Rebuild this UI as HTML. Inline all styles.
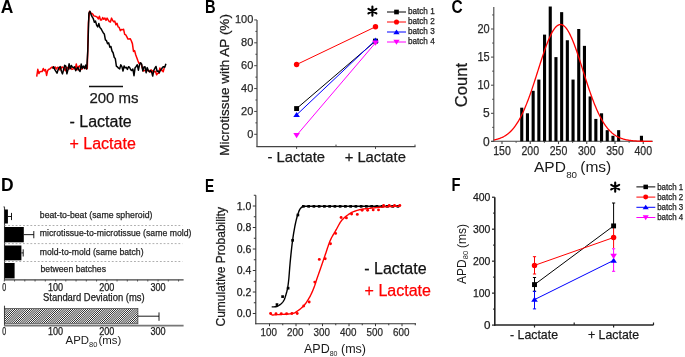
<!DOCTYPE html>
<html><head><meta charset="utf-8"><style>
html,body{margin:0;padding:0;background:#fff;}
body{width:685px;height:357px;overflow:hidden;position:relative;font-family:"Liberation Sans", sans-serif;}
svg{position:absolute;left:0;top:0;will-change:transform;}
</style></head><body>
<svg width="685" height="357" viewBox="0 0 685 357" font-family='"Liberation Sans", sans-serif'>
<rect width="685" height="357" fill="#fff"/>
<text x="0.70" y="12.90" font-size="17.6" text-anchor="start" fill="#000" font-weight="bold" textLength="12.6" lengthAdjust="spacingAndGlyphs">A</text>
<text x="204.90" y="12.90" font-size="17.6" text-anchor="start" fill="#000" font-weight="bold" textLength="10.6" lengthAdjust="spacingAndGlyphs">B</text>
<text x="451.50" y="12.90" font-size="17.6" text-anchor="start" fill="#000" font-weight="bold" textLength="11.2" lengthAdjust="spacingAndGlyphs">C</text>
<text x="0.90" y="191.10" font-size="17.6" text-anchor="start" fill="#000" font-weight="bold" textLength="12.6" lengthAdjust="spacingAndGlyphs">D</text>
<text x="204.90" y="191.70" font-size="17.6" text-anchor="start" fill="#000" font-weight="bold" textLength="9.2" lengthAdjust="spacingAndGlyphs">E</text>
<text x="451.60" y="191.00" font-size="17.6" text-anchor="start" fill="#000" font-weight="bold" textLength="9.0" lengthAdjust="spacingAndGlyphs">F</text>
<polyline points="36.70,76.56 37.80,69.36 38.90,73.50 40.00,71.71 41.10,71.58 42.20,71.61 43.30,68.54 44.40,70.85 45.50,69.54 46.60,75.45 47.70,70.44 48.80,69.19 49.90,68.90 51.00,67.93 52.10,66.95 53.20,67.56 54.30,68.47 55.40,67.16 56.50,68.99 57.60,67.29 58.70,67.66 59.80,69.98 60.90,68.51 62.00,66.98 63.10,67.50 64.20,68.62 65.30,70.75 66.40,67.48 67.50,67.55 68.60,69.46 69.70,66.66 70.80,67.59 71.90,69.38 73.00,68.96 74.10,68.26 75.20,69.15 76.30,63.94 77.40,69.74 78.50,66.80 79.60,65.77 80.70,68.72 81.80,69.39 82.90,67.70 84.00,66.79 85.10,68.47 86.20,68.39 87.30,68.50 88.40,23.08 89.50,11.37 90.60,13.45 91.70,13.25 92.80,14.02 93.90,15.91 95.00,16.14 96.10,16.53 97.20,17.18 98.30,18.94 99.40,16.23 100.50,20.02 101.60,20.01 102.70,17.53 103.80,19.25 104.90,17.98 106.00,20.40 107.10,18.12 108.20,19.97 109.30,21.59 110.40,21.93 111.50,18.13 112.60,20.39 113.70,21.73 114.80,21.13 115.90,24.66 117.00,23.27 118.10,26.86 119.20,27.44 120.30,30.63 121.40,29.55 122.50,29.66 123.60,29.29 124.70,34.39 125.80,34.93 126.90,36.87 128.00,39.12 129.10,39.00 130.20,38.66 131.30,40.75 132.40,43.62 133.50,51.51 134.60,50.66 135.70,54.81 136.80,57.73 137.90,60.78 139.00,63.54 140.10,62.87 141.20,63.76 142.30,67.97 143.40,70.93 144.50,70.56 145.60,70.07 146.70,69.58 147.80,70.81 148.90,70.32 150.00,72.23 151.10,69.81 152.20,71.20 153.30,70.83 154.40,71.82 155.50,71.34 156.60,74.83 157.70,73.25 158.80,73.25 159.90,67.94 161.00,70.49 162.10,70.09 163.20,71.80 164.30,67.58" fill="none" stroke="#ff0000" stroke-width="1.5" stroke-linejoin="round" />
<polyline points="52.60,68.59 53.70,66.73 54.80,69.66 55.90,71.37 57.00,73.22 58.10,69.84 59.20,67.56 60.30,66.65 61.40,71.25 62.50,73.90 63.60,69.82 64.70,65.30 65.80,66.13 66.90,73.80 68.00,69.61 69.10,63.80 70.20,68.75 71.30,65.51 72.40,67.11 73.50,67.54 74.60,66.86 75.70,70.66 76.80,68.81 77.90,67.23 79.00,70.23 80.10,71.49 81.20,64.07 82.30,68.23 83.40,66.06 84.50,68.48 85.60,65.13 86.70,69.06 87.80,50.67 88.90,13.12 90.00,11.28 91.10,14.64 92.20,16.92 93.30,18.66 94.40,22.16 95.50,21.08 96.60,25.02 97.70,26.93 98.80,23.40 99.90,27.58 101.00,28.67 102.10,30.73 103.20,32.72 104.30,33.95 105.40,39.85 106.50,40.69 107.60,43.67 108.70,42.91 109.80,47.18 110.90,46.47 112.00,50.98 113.10,52.75 114.20,57.26 115.30,58.65 116.40,66.25 117.50,66.91 118.60,68.19 119.70,68.84 120.80,64.80 121.90,66.57 123.00,71.00 124.10,65.93 125.20,67.85 126.30,67.38 127.40,69.44 128.50,66.68 129.60,67.48 130.70,69.60 131.80,70.56 132.90,69.03 134.00,75.69 135.10,67.64 136.20,66.46 137.30,64.78 138.40,70.15 139.50,64.79 140.60,62.80 141.70,64.27 142.80,70.91 143.90,67.09 145.00,66.76 146.10,72.73 147.20,67.61 148.30,70.55 149.40,71.81 150.50,70.66 151.60,71.84 152.70,76.02 153.80,70.45 154.90,68.22 156.00,66.49 157.10,71.39 158.20,70.94 159.30,72.80 160.40,70.21 161.50,69.06 162.60,67.24 163.70,66.74 164.80,67.20 165.90,63.82" fill="none" stroke="#000000" stroke-width="1.5" stroke-linejoin="round" />
<line x1="89.00" y1="86.40" x2="123.00" y2="86.40" stroke="#111" stroke-width="1.5" />
<text x="89.40" y="102.50" font-size="15" text-anchor="start" fill="#1a1a1a" font-weight="normal" stroke="#1a1a1a" stroke-width="0.25" >200 ms</text>
<text x="69.50" y="127.40" font-size="16" text-anchor="start" fill="#111" font-weight="normal" stroke="#111" stroke-width="0.25" >- Lactate</text>
<text x="69.50" y="149.10" font-size="16" text-anchor="start" fill="#ff0000" font-weight="normal" stroke="#ff0000" stroke-width="0.25" >+ Lactate</text>
<line x1="257.00" y1="19.95" x2="257.00" y2="147.10" stroke="#444" stroke-width="1.2" />
<line x1="256.50" y1="146.60" x2="415.50" y2="146.60" stroke="#444" stroke-width="1.2" />
<line x1="254.20" y1="134.30" x2="257.00" y2="134.30" stroke="#444" stroke-width="1" />
<line x1="255.40" y1="122.87" x2="257.00" y2="122.87" stroke="#444" stroke-width="1" />
<line x1="254.20" y1="111.43" x2="257.00" y2="111.43" stroke="#444" stroke-width="1" />
<line x1="255.40" y1="100.00" x2="257.00" y2="100.00" stroke="#444" stroke-width="1" />
<line x1="254.20" y1="88.56" x2="257.00" y2="88.56" stroke="#444" stroke-width="1" />
<line x1="255.40" y1="77.13" x2="257.00" y2="77.13" stroke="#444" stroke-width="1" />
<line x1="254.20" y1="65.69" x2="257.00" y2="65.69" stroke="#444" stroke-width="1" />
<line x1="255.40" y1="54.26" x2="257.00" y2="54.26" stroke="#444" stroke-width="1" />
<line x1="254.20" y1="42.82" x2="257.00" y2="42.82" stroke="#444" stroke-width="1" />
<line x1="255.40" y1="31.39" x2="257.00" y2="31.39" stroke="#444" stroke-width="1" />
<line x1="254.20" y1="19.95" x2="257.00" y2="19.95" stroke="#444" stroke-width="1" />
<text x="253.30" y="137.50" font-size="11" text-anchor="end" fill="#2a2a2a" font-weight="normal" stroke="#2a2a2a" stroke-width="0.25" >0</text>
<text x="253.30" y="114.63" font-size="11" text-anchor="end" fill="#2a2a2a" font-weight="normal" stroke="#2a2a2a" stroke-width="0.25" >20</text>
<text x="253.30" y="91.76" font-size="11" text-anchor="end" fill="#2a2a2a" font-weight="normal" stroke="#2a2a2a" stroke-width="0.25" >40</text>
<text x="253.30" y="68.89" font-size="11" text-anchor="end" fill="#2a2a2a" font-weight="normal" stroke="#2a2a2a" stroke-width="0.25" >60</text>
<text x="253.30" y="46.02" font-size="11" text-anchor="end" fill="#2a2a2a" font-weight="normal" stroke="#2a2a2a" stroke-width="0.25" >80</text>
<text x="253.30" y="23.15" font-size="11" text-anchor="end" fill="#2a2a2a" font-weight="normal" stroke="#2a2a2a" stroke-width="0.25" >100</text>
<text x="0.00" y="0.00" font-size="13.5" text-anchor="middle" fill="#1a1a1a" font-weight="normal" stroke="#1a1a1a" stroke-width="0.25" transform="translate(229.0,84.9) rotate(-90)">Microtissue with AP (%)</text>
<line x1="296.60" y1="146.60" x2="296.60" y2="148.90" stroke="#444" stroke-width="1" />
<line x1="375.50" y1="146.60" x2="375.50" y2="148.90" stroke="#444" stroke-width="1" />
<line x1="336.00" y1="146.60" x2="336.00" y2="144.60" stroke="#444" stroke-width="1" />
<line x1="415.00" y1="146.60" x2="415.00" y2="144.60" stroke="#444" stroke-width="1" />
<text x="296.30" y="162.00" font-size="14.8" text-anchor="middle" fill="#1a1a1a" font-weight="normal" stroke="#1a1a1a" stroke-width="0.25" >- Lactate</text>
<text x="375.30" y="162.00" font-size="14.8" text-anchor="middle" fill="#1a1a1a" font-weight="normal" stroke="#1a1a1a" stroke-width="0.25" >+ Lactate</text>
<line x1="296.60" y1="108.57" x2="375.50" y2="41.10" stroke="#000000" stroke-width="1" />
<line x1="296.60" y1="64.55" x2="375.50" y2="26.81" stroke="#ff0000" stroke-width="1" />
<line x1="296.60" y1="114.86" x2="375.50" y2="40.19" stroke="#0000ff" stroke-width="1" />
<line x1="296.60" y1="135.33" x2="375.50" y2="42.82" stroke="#ff00ff" stroke-width="1" />
<rect x="294.15" y="106.12" width="4.90" height="4.90" fill="#000000"/>
<rect x="373.05" y="38.65" width="4.90" height="4.90" fill="#000000"/>
<circle cx="296.60" cy="64.55" r="2.70" fill="#ff0000"/>
<circle cx="375.50" cy="26.81" r="2.70" fill="#ff0000"/>
<polygon points="293.30,117.11 299.90,117.11 296.60,112.11" fill="#0000ff"/>
<polygon points="372.20,42.44 378.80,42.44 375.50,37.44" fill="#0000ff"/>
<polygon points="293.30,132.99 299.90,132.99 296.60,138.19" fill="#ff00ff"/>
<polygon points="372.20,40.48 378.80,40.48 375.50,45.68" fill="#ff00ff"/>
<path d="M372.40,15.70L372.40,6.50M368.42,13.40L376.38,8.80M376.38,13.40L368.42,8.80" stroke="#000" stroke-width="2.1" stroke-linecap="round" fill="none"/>
<line x1="387.00" y1="12.00" x2="406.00" y2="12.00" stroke="#000000" stroke-width="1" />
<rect x="394.17" y="9.67" width="4.66" height="4.66" fill="#000000"/>
<text x="407.90" y="13.70" font-size="8.6" text-anchor="start" fill="#1a1a1a" font-weight="normal" stroke="#1a1a1a" stroke-width="0.25" textLength="26.8" lengthAdjust="spacingAndGlyphs">batch 1</text>
<line x1="387.00" y1="22.00" x2="406.00" y2="22.00" stroke="#ff0000" stroke-width="1" />
<circle cx="396.50" cy="22.00" r="2.56" fill="#ff0000"/>
<text x="407.90" y="23.70" font-size="8.6" text-anchor="start" fill="#1a1a1a" font-weight="normal" stroke="#1a1a1a" stroke-width="0.25" textLength="26.8" lengthAdjust="spacingAndGlyphs">batch 2</text>
<line x1="387.00" y1="32.00" x2="406.00" y2="32.00" stroke="#0000ff" stroke-width="1" />
<polygon points="393.37,34.14 399.63,34.14 396.50,29.39" fill="#0000ff"/>
<text x="407.90" y="33.70" font-size="8.6" text-anchor="start" fill="#1a1a1a" font-weight="normal" stroke="#1a1a1a" stroke-width="0.25" textLength="26.8" lengthAdjust="spacingAndGlyphs">batch 3</text>
<line x1="387.00" y1="42.00" x2="406.00" y2="42.00" stroke="#ff00ff" stroke-width="1" />
<polygon points="393.37,39.78 399.63,39.78 396.50,44.72" fill="#ff00ff"/>
<text x="407.90" y="43.70" font-size="8.6" text-anchor="start" fill="#1a1a1a" font-weight="normal" stroke="#1a1a1a" stroke-width="0.25" textLength="26.8" lengthAdjust="spacingAndGlyphs">batch 4</text>
<line x1="493.80" y1="7.00" x2="493.80" y2="141.80" stroke="#444" stroke-width="1.1" />
<line x1="491.20" y1="141.30" x2="652.70" y2="141.30" stroke="#444" stroke-width="1.1" />
<line x1="491.00" y1="141.40" x2="493.80" y2="141.40" stroke="#444" stroke-width="1" />
<line x1="492.20" y1="127.35" x2="493.80" y2="127.35" stroke="#444" stroke-width="1" />
<line x1="491.00" y1="113.30" x2="493.80" y2="113.30" stroke="#444" stroke-width="1" />
<line x1="492.20" y1="99.25" x2="493.80" y2="99.25" stroke="#444" stroke-width="1" />
<line x1="491.00" y1="85.20" x2="493.80" y2="85.20" stroke="#444" stroke-width="1" />
<line x1="492.20" y1="71.15" x2="493.80" y2="71.15" stroke="#444" stroke-width="1" />
<line x1="491.00" y1="57.10" x2="493.80" y2="57.10" stroke="#444" stroke-width="1" />
<line x1="492.20" y1="43.05" x2="493.80" y2="43.05" stroke="#444" stroke-width="1" />
<line x1="491.00" y1="29.00" x2="493.80" y2="29.00" stroke="#444" stroke-width="1" />
<line x1="492.20" y1="14.95" x2="493.80" y2="14.95" stroke="#444" stroke-width="1" />
<text x="489.60" y="145.50" font-size="12" text-anchor="end" fill="#2a2a2a" font-weight="normal" stroke="#2a2a2a" stroke-width="0.25" >0</text>
<text x="489.60" y="117.40" font-size="12" text-anchor="end" fill="#2a2a2a" font-weight="normal" stroke="#2a2a2a" stroke-width="0.25" >5</text>
<text x="489.60" y="89.30" font-size="12" text-anchor="end" fill="#2a2a2a" font-weight="normal" stroke="#2a2a2a" stroke-width="0.25" textLength="12.2" lengthAdjust="spacingAndGlyphs">10</text>
<text x="489.60" y="61.20" font-size="12" text-anchor="end" fill="#2a2a2a" font-weight="normal" stroke="#2a2a2a" stroke-width="0.25" textLength="12.2" lengthAdjust="spacingAndGlyphs">15</text>
<text x="489.60" y="33.10" font-size="12" text-anchor="end" fill="#2a2a2a" font-weight="normal" stroke="#2a2a2a" stroke-width="0.25" textLength="12.2" lengthAdjust="spacingAndGlyphs">20</text>
<line x1="502.00" y1="141.30" x2="502.00" y2="144.10" stroke="#444" stroke-width="1.1" />
<line x1="516.12" y1="141.30" x2="516.12" y2="142.90" stroke="#444" stroke-width="0.9" />
<line x1="530.25" y1="141.30" x2="530.25" y2="144.10" stroke="#444" stroke-width="1.1" />
<line x1="544.38" y1="141.30" x2="544.38" y2="142.90" stroke="#444" stroke-width="0.9" />
<line x1="558.50" y1="141.30" x2="558.50" y2="144.10" stroke="#444" stroke-width="1.1" />
<line x1="572.62" y1="141.30" x2="572.62" y2="142.90" stroke="#444" stroke-width="0.9" />
<line x1="586.75" y1="141.30" x2="586.75" y2="144.10" stroke="#444" stroke-width="1.1" />
<line x1="600.88" y1="141.30" x2="600.88" y2="142.90" stroke="#444" stroke-width="0.9" />
<line x1="615.00" y1="141.30" x2="615.00" y2="144.10" stroke="#444" stroke-width="1.1" />
<line x1="629.12" y1="141.30" x2="629.12" y2="142.90" stroke="#444" stroke-width="0.9" />
<line x1="643.25" y1="141.30" x2="643.25" y2="144.10" stroke="#444" stroke-width="1.1" />
<text x="502.00" y="155.20" font-size="11.9" text-anchor="middle" fill="#2a2a2a" font-weight="normal" stroke="#2a2a2a" stroke-width="0.25" textLength="17.6" lengthAdjust="spacingAndGlyphs">150</text>
<text x="530.25" y="155.20" font-size="11.9" text-anchor="middle" fill="#2a2a2a" font-weight="normal" stroke="#2a2a2a" stroke-width="0.25" textLength="17.6" lengthAdjust="spacingAndGlyphs">200</text>
<text x="558.50" y="155.20" font-size="11.9" text-anchor="middle" fill="#2a2a2a" font-weight="normal" stroke="#2a2a2a" stroke-width="0.25" textLength="17.6" lengthAdjust="spacingAndGlyphs">250</text>
<text x="586.75" y="155.20" font-size="11.9" text-anchor="middle" fill="#2a2a2a" font-weight="normal" stroke="#2a2a2a" stroke-width="0.25" textLength="17.6" lengthAdjust="spacingAndGlyphs">300</text>
<text x="615.00" y="155.20" font-size="11.9" text-anchor="middle" fill="#2a2a2a" font-weight="normal" stroke="#2a2a2a" stroke-width="0.25" textLength="17.6" lengthAdjust="spacingAndGlyphs">350</text>
<text x="643.25" y="155.20" font-size="11.9" text-anchor="middle" fill="#2a2a2a" font-weight="normal" stroke="#2a2a2a" stroke-width="0.25" textLength="17.6" lengthAdjust="spacingAndGlyphs">400</text>
<text x="0.00" y="0.00" font-size="16.6" text-anchor="middle" fill="#1a1a1a" font-weight="normal" stroke="#1a1a1a" stroke-width="0.25" transform="translate(467.2,85.0) rotate(-90)">Count</text>
<text x="534" y="172.1" font-size="15.5" fill="#1a1a1a">APD<tspan font-size="9.8" dy="5.4" dx="0.3">80</tspan><tspan dy="-5.4" dx="3.2">(ms)</tspan></text>
<rect x="520.20" y="107.68" width="3.1" height="33.62" fill="#000"/>
<rect x="525.90" y="113.30" width="3.1" height="28.00" fill="#000"/>
<rect x="531.60" y="90.82" width="3.1" height="50.48" fill="#000"/>
<rect x="537.30" y="79.58" width="3.1" height="61.72" fill="#000"/>
<rect x="543.00" y="34.62" width="3.1" height="106.68" fill="#000"/>
<rect x="548.70" y="6.52" width="3.1" height="134.78" fill="#000"/>
<rect x="554.40" y="57.10" width="3.1" height="84.20" fill="#000"/>
<rect x="560.10" y="12.14" width="3.1" height="129.16" fill="#000"/>
<rect x="565.80" y="40.24" width="3.1" height="101.06" fill="#000"/>
<rect x="571.50" y="79.58" width="3.1" height="61.72" fill="#000"/>
<rect x="577.20" y="29.00" width="3.1" height="112.30" fill="#000"/>
<rect x="582.90" y="45.86" width="3.1" height="95.44" fill="#000"/>
<rect x="588.60" y="96.44" width="3.1" height="44.86" fill="#000"/>
<rect x="594.30" y="118.92" width="3.1" height="22.38" fill="#000"/>
<rect x="600.00" y="113.30" width="3.1" height="28.00" fill="#000"/>
<rect x="605.70" y="130.16" width="3.1" height="11.14" fill="#000"/>
<rect x="611.40" y="135.78" width="3.1" height="5.52" fill="#000"/>
<rect x="617.10" y="130.16" width="3.1" height="11.14" fill="#000"/>
<rect x="639.90" y="135.78" width="3.1" height="5.52" fill="#000"/>
<polyline points="493.80,139.96 494.30,139.87 494.80,139.76 495.30,139.65 495.80,139.54 496.30,139.42 496.80,139.29 497.30,139.15 497.80,139.01 498.30,138.85 498.80,138.69 499.30,138.52 499.80,138.34 500.30,138.16 500.80,137.96 501.30,137.75 501.80,137.53 502.30,137.30 502.80,137.06 503.30,136.80 503.80,136.54 504.30,136.26 504.80,135.96 505.30,135.66 505.80,135.34 506.30,135.00 506.80,134.65 507.30,134.29 507.80,133.90 508.30,133.50 508.80,133.09 509.30,132.65 509.80,132.20 510.30,131.73 510.80,131.24 511.30,130.73 511.80,130.20 512.30,129.65 512.80,129.08 513.30,128.49 513.80,127.88 514.30,127.24 514.80,126.58 515.30,125.90 515.80,125.20 516.30,124.47 516.80,123.72 517.30,122.94 517.80,122.14 518.30,121.31 518.80,120.46 519.30,119.59 519.80,118.68 520.30,117.76 520.80,116.80 521.30,115.82 521.80,114.82 522.30,113.79 522.80,112.73 523.30,111.65 523.80,110.55 524.30,109.41 524.80,108.25 525.30,107.07 525.80,105.86 526.30,104.63 526.80,103.38 527.30,102.10 527.80,100.80 528.30,99.47 528.80,98.13 529.30,96.76 529.80,95.37 530.30,93.96 530.80,92.54 531.30,91.09 531.80,89.63 532.30,88.16 532.80,86.66 533.30,85.16 533.80,83.64 534.30,82.11 534.80,80.57 535.30,79.02 535.80,77.46 536.30,75.89 536.80,74.32 537.30,72.75 537.80,71.17 538.30,69.60 538.80,68.02 539.30,66.45 539.80,64.88 540.30,63.31 540.80,61.76 541.30,60.21 541.80,58.68 542.30,57.15 542.80,55.64 543.30,54.15 543.80,52.68 544.30,51.22 544.80,49.79 545.30,48.38 545.80,46.99 546.30,45.63 546.80,44.30 547.30,43.00 547.80,41.73 548.30,40.50 548.80,39.30 549.30,38.14 549.80,37.01 550.30,35.93 550.80,34.89 551.30,33.89 551.80,32.93 552.30,32.02 552.80,31.16 553.30,30.34 553.80,29.58 554.30,28.86 554.80,28.20 555.30,27.59 555.80,27.03 556.30,26.52 556.80,26.07 557.30,25.68 557.80,25.34 558.30,25.06 558.80,24.84 559.30,24.67 559.80,24.56 560.30,24.51 560.80,24.51 561.30,24.58 561.80,24.70 562.30,24.88 562.80,25.12 563.30,25.41 563.80,25.76 564.30,26.16 564.80,26.63 565.30,27.14 565.80,27.71 566.30,28.33 566.80,29.01 567.30,29.73 567.80,30.51 568.30,31.34 568.80,32.21 569.30,33.13 569.80,34.09 570.30,35.10 570.80,36.16 571.30,37.25 571.80,38.38 572.30,39.55 572.80,40.76 573.30,42.00 573.80,43.28 574.30,44.58 574.80,45.92 575.30,47.28 575.80,48.67 576.30,50.09 576.80,51.53 577.30,52.99 577.80,54.47 578.30,55.96 578.80,57.47 579.30,59.00 579.80,60.54 580.30,62.09 580.80,63.65 581.30,65.21 581.80,66.78 582.30,68.35 582.80,69.93 583.30,71.51 583.80,73.08 584.30,74.66 584.80,76.23 585.30,77.79 585.80,79.35 586.30,80.89 586.80,82.43 587.30,83.96 587.80,85.48 588.30,86.98 588.80,88.47 589.30,89.95 589.80,91.40 590.30,92.84 590.80,94.27 591.30,95.67 591.80,97.05 592.30,98.41 592.80,99.76 593.30,101.08 593.80,102.37 594.30,103.65 594.80,104.90 595.30,106.12 595.80,107.33 596.30,108.50 596.80,109.66 597.30,110.78 597.80,111.88 598.30,112.96 598.80,114.01 599.30,115.04 599.80,116.04 600.30,117.01 600.80,117.96 601.30,118.88 601.80,119.77 602.30,120.64 602.80,121.49 603.30,122.31 603.80,123.11 604.30,123.88 604.80,124.63 605.30,125.35 605.80,126.05 606.30,126.72 606.80,127.38 607.30,128.01 607.80,128.62 608.30,129.21 608.80,129.77 609.30,130.32 609.80,130.84 610.30,131.35 610.80,131.83 611.30,132.30 611.80,132.75 612.30,133.18 612.80,133.59 613.30,133.99 613.80,134.36 614.30,134.73 614.80,135.07 615.30,135.41 615.80,135.72 616.30,136.03 616.80,136.32 617.30,136.59 617.80,136.86 618.30,137.11 618.80,137.35 619.30,137.58 619.80,137.79 620.30,138.00 620.80,138.20 621.30,138.38 621.80,138.56 622.30,138.73 622.80,138.89 623.30,139.04 623.80,139.18 624.30,139.32 624.80,139.44 625.30,139.56 625.80,139.68 626.30,139.79 626.80,139.89 627.30,139.98 627.80,140.08 628.30,140.16 628.80,140.24 629.30,140.32 629.80,140.39 630.30,140.46 630.80,140.52 631.30,140.58 631.80,140.63 632.30,140.69 632.80,140.74 633.30,140.78 633.80,140.83 634.30,140.87 634.80,140.90 635.30,140.94 635.80,140.97 636.30,141.00 636.80,141.03 637.30,141.06 637.80,141.08 638.30,141.11 638.80,141.13 639.30,141.15 639.80,141.17 640.30,141.19 640.80,141.20 641.30,141.22 641.80,141.23 642.30,141.24 642.80,141.26 643.30,141.27 643.80,141.28 644.30,141.29 644.80,141.30 645.30,141.30 645.80,141.31 646.30,141.32 646.80,141.33 647.30,141.33 647.80,141.34 648.30,141.34 648.80,141.35 649.30,141.35 649.80,141.36 650.30,141.36 650.80,141.36 651.30,141.37 651.80,141.37 652.30,141.37" fill="none" stroke="#ff0000" stroke-width="1.3" stroke-linejoin="round" />
<line x1="4.50" y1="206.70" x2="4.50" y2="280.30" stroke="#444" stroke-width="1.1" />
<line x1="4.00" y1="279.80" x2="183.60" y2="279.80" stroke="#444" stroke-width="1.2" />
<line x1="3.30" y1="206.90" x2="4.50" y2="206.90" stroke="#444" stroke-width="0.8" />
<line x1="4.30" y1="279.80" x2="4.30" y2="281.50" stroke="#444" stroke-width="0.9" />
<line x1="14.55" y1="279.80" x2="14.55" y2="281.50" stroke="#444" stroke-width="0.9" />
<line x1="24.80" y1="279.80" x2="24.80" y2="281.50" stroke="#444" stroke-width="0.9" />
<line x1="35.05" y1="279.80" x2="35.05" y2="281.50" stroke="#444" stroke-width="0.9" />
<line x1="45.30" y1="279.80" x2="45.30" y2="281.50" stroke="#444" stroke-width="0.9" />
<line x1="55.55" y1="279.80" x2="55.55" y2="281.50" stroke="#444" stroke-width="0.9" />
<line x1="65.80" y1="279.80" x2="65.80" y2="281.50" stroke="#444" stroke-width="0.9" />
<line x1="76.05" y1="279.80" x2="76.05" y2="281.50" stroke="#444" stroke-width="0.9" />
<line x1="86.30" y1="279.80" x2="86.30" y2="281.50" stroke="#444" stroke-width="0.9" />
<line x1="96.55" y1="279.80" x2="96.55" y2="281.50" stroke="#444" stroke-width="0.9" />
<line x1="106.80" y1="279.80" x2="106.80" y2="281.50" stroke="#444" stroke-width="0.9" />
<line x1="117.05" y1="279.80" x2="117.05" y2="281.50" stroke="#444" stroke-width="0.9" />
<line x1="127.30" y1="279.80" x2="127.30" y2="281.50" stroke="#444" stroke-width="0.9" />
<line x1="137.55" y1="279.80" x2="137.55" y2="281.50" stroke="#444" stroke-width="0.9" />
<line x1="147.80" y1="279.80" x2="147.80" y2="281.50" stroke="#444" stroke-width="0.9" />
<line x1="158.05" y1="279.80" x2="158.05" y2="281.50" stroke="#444" stroke-width="0.9" />
<line x1="168.30" y1="279.80" x2="168.30" y2="281.50" stroke="#444" stroke-width="0.9" />
<line x1="178.55" y1="279.80" x2="178.55" y2="281.50" stroke="#444" stroke-width="0.9" />
<text x="4.30" y="291.10" font-size="10.4" text-anchor="middle" fill="#1a1a1a" font-weight="normal" stroke="#1a1a1a" stroke-width="0.25" textLength="3.9" lengthAdjust="spacingAndGlyphs">0</text>
<text x="55.55" y="291.10" font-size="10.4" text-anchor="middle" fill="#1a1a1a" font-weight="normal" stroke="#1a1a1a" stroke-width="0.25" textLength="15.2" lengthAdjust="spacingAndGlyphs">100</text>
<text x="106.80" y="291.10" font-size="10.4" text-anchor="middle" fill="#1a1a1a" font-weight="normal" stroke="#1a1a1a" stroke-width="0.25" textLength="15.2" lengthAdjust="spacingAndGlyphs">200</text>
<text x="158.05" y="291.10" font-size="10.4" text-anchor="middle" fill="#1a1a1a" font-weight="normal" stroke="#1a1a1a" stroke-width="0.25" textLength="15.2" lengthAdjust="spacingAndGlyphs">300</text>
<text x="43.00" y="300.60" font-size="10" text-anchor="start" fill="#1a1a1a" font-weight="normal" stroke="#1a1a1a" stroke-width="0.25" textLength="101.6" lengthAdjust="spacingAndGlyphs">Standard Deviation (ms)</text>
<line x1="4.50" y1="225.50" x2="182.40" y2="225.50" stroke="#9a9a9a" stroke-width="0.8" stroke-dasharray="1.85,1.85"/>
<line x1="4.50" y1="243.60" x2="182.40" y2="243.60" stroke="#9a9a9a" stroke-width="0.8" stroke-dasharray="1.85,1.85"/>
<line x1="4.50" y1="261.50" x2="182.40" y2="261.50" stroke="#9a9a9a" stroke-width="0.8" stroke-dasharray="1.85,1.85"/>
<rect x="4.50" y="209.50" width="3.40" height="14.00" fill="#000"/>
<line x1="7.90" y1="216.50" x2="11.50" y2="216.50" stroke="#000" stroke-width="0.9" />
<line x1="11.50" y1="212.90" x2="11.50" y2="220.10" stroke="#000" stroke-width="0.9" />
<rect x="4.50" y="227.00" width="19.30" height="15.30" fill="#000"/>
<line x1="23.80" y1="234.65" x2="33.80" y2="234.65" stroke="#000" stroke-width="0.9" />
<line x1="33.80" y1="231.05" x2="33.80" y2="238.25" stroke="#000" stroke-width="0.9" />
<rect x="4.50" y="245.50" width="16.90" height="14.80" fill="#000"/>
<line x1="21.40" y1="252.90" x2="23.20" y2="252.90" stroke="#000" stroke-width="0.9" />
<line x1="23.20" y1="249.30" x2="23.20" y2="256.50" stroke="#000" stroke-width="0.9" />
<rect x="4.50" y="263.00" width="10.10" height="15.40" fill="#000"/>
<text x="39.80" y="217.70" font-size="9.3" text-anchor="start" fill="#222" font-weight="normal" stroke="#222" stroke-width="0.25" textLength="112.6" lengthAdjust="spacingAndGlyphs">beat-to-beat (same spheroid)</text>
<text x="39.80" y="236.00" font-size="9.3" text-anchor="start" fill="#222" font-weight="normal" stroke="#222" stroke-width="0.25" textLength="151.6" lengthAdjust="spacingAndGlyphs">microtissue-to-microtissue (same mold)</text>
<text x="39.80" y="254.70" font-size="9.3" text-anchor="start" fill="#222" font-weight="normal" stroke="#222" stroke-width="0.25" textLength="103.8" lengthAdjust="spacingAndGlyphs">mold-to-mold (same batch)</text>
<text x="40.50" y="271.90" font-size="9.3" text-anchor="start" fill="#222" font-weight="normal" stroke="#222" stroke-width="0.25" textLength="65.5" lengthAdjust="spacingAndGlyphs">between batches</text>
<defs><clipPath id="hc"><rect x="4.5" y="308.6" width="133.4" height="15.2"/></clipPath></defs>
<line x1="4.50" y1="305.70" x2="4.50" y2="326.00" stroke="#444" stroke-width="1.1" />
<g clip-path="url(#hc)"><rect x="4.5" y="308.6" width="133.4" height="15.2" fill="#fff"/><path d="M-12.70,323.8L2.50,308.6M-10.55,323.8L4.65,308.6M-8.40,323.8L6.80,308.6M-6.25,323.8L8.95,308.6M-4.10,323.8L11.10,308.6M-1.95,323.8L13.25,308.6M0.20,323.8L15.40,308.6M2.35,323.8L17.55,308.6M4.50,323.8L19.70,308.6M6.65,323.8L21.85,308.6M8.80,323.8L24.00,308.6M10.95,323.8L26.15,308.6M13.10,323.8L28.30,308.6M15.25,323.8L30.45,308.6M17.40,323.8L32.60,308.6M19.55,323.8L34.75,308.6M21.70,323.8L36.90,308.6M23.85,323.8L39.05,308.6M26.00,323.8L41.20,308.6M28.15,323.8L43.35,308.6M30.30,323.8L45.50,308.6M32.45,323.8L47.65,308.6M34.60,323.8L49.80,308.6M36.75,323.8L51.95,308.6M38.90,323.8L54.10,308.6M41.05,323.8L56.25,308.6M43.20,323.8L58.40,308.6M45.35,323.8L60.55,308.6M47.50,323.8L62.70,308.6M49.65,323.8L64.85,308.6M51.80,323.8L67.00,308.6M53.95,323.8L69.15,308.6M56.10,323.8L71.30,308.6M58.25,323.8L73.45,308.6M60.40,323.8L75.60,308.6M62.55,323.8L77.75,308.6M64.70,323.8L79.90,308.6M66.85,323.8L82.05,308.6M69.00,323.8L84.20,308.6M71.15,323.8L86.35,308.6M73.30,323.8L88.50,308.6M75.45,323.8L90.65,308.6M77.60,323.8L92.80,308.6M79.75,323.8L94.95,308.6M81.90,323.8L97.10,308.6M84.05,323.8L99.25,308.6M86.20,323.8L101.40,308.6M88.35,323.8L103.55,308.6M90.50,323.8L105.70,308.6M92.65,323.8L107.85,308.6M94.80,323.8L110.00,308.6M96.95,323.8L112.15,308.6M99.10,323.8L114.30,308.6M101.25,323.8L116.45,308.6M103.40,323.8L118.60,308.6M105.55,323.8L120.75,308.6M107.70,323.8L122.90,308.6M109.85,323.8L125.05,308.6M112.00,323.8L127.20,308.6M114.15,323.8L129.35,308.6M116.30,323.8L131.50,308.6M118.45,323.8L133.65,308.6M120.60,323.8L135.80,308.6M122.75,323.8L137.95,308.6M124.90,323.8L140.10,308.6M127.05,323.8L142.25,308.6M129.20,323.8L144.40,308.6M131.35,323.8L146.55,308.6M133.50,323.8L148.70,308.6M135.65,323.8L150.85,308.6M137.80,323.8L153.00,308.6M139.95,323.8L155.15,308.6M142.10,323.8L157.30,308.6M144.25,323.8L159.45,308.6M146.40,323.8L161.60,308.6M148.55,323.8L163.75,308.6M150.70,323.8L165.90,308.6M152.85,323.8L168.05,308.6" stroke="#222" stroke-width="1.0" fill="none"/></g>
<rect x="4.50" y="308.6" width="133.40" height="15.2" fill="none" stroke="#333" stroke-width="0.7"/>
<line x1="137.90" y1="316.20" x2="159.00" y2="316.20" stroke="#000" stroke-width="0.9" />
<line x1="159.00" y1="312.40" x2="159.00" y2="320.80" stroke="#000" stroke-width="0.9" />
<line x1="4.00" y1="325.60" x2="183.60" y2="325.60" stroke="#777" stroke-width="1.6" />
<text x="4.30" y="335.30" font-size="10.4" text-anchor="middle" fill="#1a1a1a" font-weight="normal" stroke="#1a1a1a" stroke-width="0.25" textLength="3.9" lengthAdjust="spacingAndGlyphs">0</text>
<text x="55.55" y="335.30" font-size="10.4" text-anchor="middle" fill="#1a1a1a" font-weight="normal" stroke="#1a1a1a" stroke-width="0.25" textLength="15.2" lengthAdjust="spacingAndGlyphs">100</text>
<text x="106.80" y="335.30" font-size="10.4" text-anchor="middle" fill="#1a1a1a" font-weight="normal" stroke="#1a1a1a" stroke-width="0.25" textLength="15.2" lengthAdjust="spacingAndGlyphs">200</text>
<text x="158.05" y="335.30" font-size="10.4" text-anchor="middle" fill="#1a1a1a" font-weight="normal" stroke="#1a1a1a" stroke-width="0.25" textLength="15.2" lengthAdjust="spacingAndGlyphs">300</text>
<text x="65.6" y="344.2" font-size="11.4" fill="#1a1a1a">APD<tspan font-size="7.5" dy="3.2">80</tspan><tspan dy="-3.2" dx="1.2">(ms)</tspan></text>
<line x1="255.80" y1="195.20" x2="255.80" y2="324.20" stroke="#333" stroke-width="1.1" />
<line x1="255.30" y1="323.70" x2="416.00" y2="323.70" stroke="#333" stroke-width="1.1" />
<line x1="252.80" y1="313.50" x2="255.80" y2="313.50" stroke="#333" stroke-width="1" />
<line x1="253.80" y1="302.75" x2="255.80" y2="302.75" stroke="#333" stroke-width="1" />
<line x1="252.80" y1="292.00" x2="255.80" y2="292.00" stroke="#333" stroke-width="1" />
<line x1="253.80" y1="281.25" x2="255.80" y2="281.25" stroke="#333" stroke-width="1" />
<line x1="252.80" y1="270.50" x2="255.80" y2="270.50" stroke="#333" stroke-width="1" />
<line x1="253.80" y1="259.75" x2="255.80" y2="259.75" stroke="#333" stroke-width="1" />
<line x1="252.80" y1="249.00" x2="255.80" y2="249.00" stroke="#333" stroke-width="1" />
<line x1="253.80" y1="238.25" x2="255.80" y2="238.25" stroke="#333" stroke-width="1" />
<line x1="252.80" y1="227.50" x2="255.80" y2="227.50" stroke="#333" stroke-width="1" />
<line x1="253.80" y1="216.75" x2="255.80" y2="216.75" stroke="#333" stroke-width="1" />
<line x1="252.80" y1="206.00" x2="255.80" y2="206.00" stroke="#333" stroke-width="1" />
<line x1="253.80" y1="195.25" x2="255.80" y2="195.25" stroke="#333" stroke-width="1" />
<text x="251.30" y="317.10" font-size="10.5" text-anchor="end" fill="#1a1a1a" font-weight="normal" stroke="#1a1a1a" stroke-width="0.25" >0.0</text>
<text x="251.30" y="295.60" font-size="10.5" text-anchor="end" fill="#1a1a1a" font-weight="normal" stroke="#1a1a1a" stroke-width="0.25" >0.2</text>
<text x="251.30" y="274.10" font-size="10.5" text-anchor="end" fill="#1a1a1a" font-weight="normal" stroke="#1a1a1a" stroke-width="0.25" >0.4</text>
<text x="251.30" y="252.60" font-size="10.5" text-anchor="end" fill="#1a1a1a" font-weight="normal" stroke="#1a1a1a" stroke-width="0.25" >0.6</text>
<text x="251.30" y="231.10" font-size="10.5" text-anchor="end" fill="#1a1a1a" font-weight="normal" stroke="#1a1a1a" stroke-width="0.25" >0.8</text>
<text x="251.30" y="209.60" font-size="10.5" text-anchor="end" fill="#1a1a1a" font-weight="normal" stroke="#1a1a1a" stroke-width="0.25" >1.0</text>
<line x1="269.50" y1="323.70" x2="269.50" y2="326.20" stroke="#333" stroke-width="1" />
<line x1="282.75" y1="323.70" x2="282.75" y2="325.30" stroke="#333" stroke-width="1" />
<line x1="296.00" y1="323.70" x2="296.00" y2="326.20" stroke="#333" stroke-width="1" />
<line x1="309.25" y1="323.70" x2="309.25" y2="325.30" stroke="#333" stroke-width="1" />
<line x1="322.50" y1="323.70" x2="322.50" y2="326.20" stroke="#333" stroke-width="1" />
<line x1="335.75" y1="323.70" x2="335.75" y2="325.30" stroke="#333" stroke-width="1" />
<line x1="349.00" y1="323.70" x2="349.00" y2="326.20" stroke="#333" stroke-width="1" />
<line x1="362.25" y1="323.70" x2="362.25" y2="325.30" stroke="#333" stroke-width="1" />
<line x1="375.50" y1="323.70" x2="375.50" y2="326.20" stroke="#333" stroke-width="1" />
<line x1="388.75" y1="323.70" x2="388.75" y2="325.30" stroke="#333" stroke-width="1" />
<line x1="402.00" y1="323.70" x2="402.00" y2="326.20" stroke="#333" stroke-width="1" />
<line x1="415.25" y1="323.70" x2="415.25" y2="325.30" stroke="#333" stroke-width="1" />
<text x="268.80" y="336.10" font-size="10.6" text-anchor="middle" fill="#2a2a2a" font-weight="normal" stroke="#2a2a2a" stroke-width="0.25" textLength="16.4" lengthAdjust="spacingAndGlyphs">100</text>
<text x="295.30" y="336.10" font-size="10.6" text-anchor="middle" fill="#2a2a2a" font-weight="normal" stroke="#2a2a2a" stroke-width="0.25" textLength="16.4" lengthAdjust="spacingAndGlyphs">200</text>
<text x="321.80" y="336.10" font-size="10.6" text-anchor="middle" fill="#2a2a2a" font-weight="normal" stroke="#2a2a2a" stroke-width="0.25" textLength="16.4" lengthAdjust="spacingAndGlyphs">300</text>
<text x="348.30" y="336.10" font-size="10.6" text-anchor="middle" fill="#2a2a2a" font-weight="normal" stroke="#2a2a2a" stroke-width="0.25" textLength="16.4" lengthAdjust="spacingAndGlyphs">400</text>
<text x="374.80" y="336.10" font-size="10.6" text-anchor="middle" fill="#2a2a2a" font-weight="normal" stroke="#2a2a2a" stroke-width="0.25" textLength="16.4" lengthAdjust="spacingAndGlyphs">500</text>
<text x="401.30" y="336.10" font-size="10.6" text-anchor="middle" fill="#2a2a2a" font-weight="normal" stroke="#2a2a2a" stroke-width="0.25" textLength="16.4" lengthAdjust="spacingAndGlyphs">600</text>
<text x="0.00" y="0.00" font-size="12" text-anchor="middle" fill="#1a1a1a" font-weight="normal" stroke="#1a1a1a" stroke-width="0.25" transform="translate(225,266.8) rotate(-90)">Cumulative Probability</text>
<text x="304" y="352.5" font-size="12.5" fill="#1a1a1a">APD<tspan font-size="7" dy="3.4">80</tspan><tspan dy="-3.4"> (ms)</tspan></text>
<polyline points="271.70,306.90 272.10,306.90 272.50,306.89 272.90,306.88 273.30,306.87 273.70,306.86 274.10,306.84 274.50,306.82 274.90,306.79 275.30,306.77 275.70,306.74 276.10,306.71 276.50,306.66 276.90,306.56 277.30,306.42 277.70,306.23 278.10,306.01 278.50,305.77 278.90,305.49 279.30,305.20 279.70,304.89 280.10,304.58 280.50,304.26 280.90,303.94 281.30,303.60 281.70,303.22 282.10,302.82 282.50,302.36 282.90,301.87 283.30,301.31 283.70,300.70 284.10,300.02 284.50,299.14 284.90,298.05 285.30,296.81 285.70,295.48 286.10,294.09 286.50,292.71 286.90,291.28 287.30,289.65 287.70,287.65 288.10,285.01 288.50,281.78 288.90,277.97 289.30,273.06 289.70,267.77 290.10,263.00 290.50,258.86 290.90,254.88 291.30,251.09 291.70,247.50 292.10,244.14 292.50,241.03 292.90,238.17 293.30,235.46 293.70,232.91 294.10,230.52 294.50,228.28 294.90,226.19 295.30,224.24 295.70,222.39 296.10,220.63 296.50,218.98 296.90,217.45 297.30,216.05 297.70,214.80 298.10,213.60 298.50,212.44 298.90,211.36 299.30,210.39 299.70,209.57 300.10,208.93 300.50,208.44 300.90,207.98 301.30,207.55 301.70,207.17 302.10,206.85 302.50,206.61 302.90,206.45 303.30,206.39 303.70,206.37 304.10,206.35 304.50,206.33 304.90,206.32 305.30,206.31 305.70,206.30 306.10,206.30 306.50,206.30 306.90,206.30 307.30,206.30 307.70,206.30 308.10,206.30 308.50,206.30 308.90,206.30 309.30,206.30 309.70,206.30 310.10,206.30 310.50,206.30 310.90,206.30 311.30,206.30 311.70,206.30 312.10,206.30 312.50,206.30 312.90,206.30 313.30,206.30 313.70,206.30 314.10,206.30 314.50,206.30 314.90,206.30 315.30,206.30 315.70,206.30 316.10,206.30 316.50,206.30 316.90,206.30 317.30,206.30 317.70,206.30 318.10,206.30 318.50,206.30 318.90,206.30 319.30,206.30 319.70,206.30 320.10,206.30 320.50,206.30 320.90,206.30 321.30,206.30 321.70,206.30 322.10,206.30 322.50,206.30 322.90,206.30 323.30,206.30 323.70,206.30 324.10,206.30 324.50,206.30 324.90,206.30 325.30,206.30 325.70,206.30 326.10,206.30 326.50,206.30 326.90,206.30 327.30,206.30 327.70,206.30 328.10,206.30 328.50,206.30 328.90,206.30 329.30,206.30 329.70,206.30 330.10,206.30 330.50,206.30 330.90,206.30 331.30,206.30 331.70,206.30 332.10,206.30 332.50,206.30 332.90,206.30 333.30,206.30 333.70,206.30 334.10,206.30 334.50,206.30 334.90,206.30 335.30,206.30 335.70,206.30 336.10,206.30 336.50,206.30 336.90,206.30 337.30,206.30 337.70,206.30 338.10,206.30 338.50,206.30 338.90,206.30 339.30,206.30 339.70,206.30 340.10,206.30 340.50,206.30 340.90,206.30 341.30,206.30 341.70,206.30 342.10,206.30 342.50,206.30 342.90,206.30 343.30,206.30 343.70,206.30 344.10,206.30 344.50,206.30 344.90,206.30 345.30,206.30 345.70,206.30 346.10,206.30 346.50,206.30 346.90,206.30 347.30,206.30 347.70,206.30 348.10,206.30 348.50,206.30 348.90,206.30 349.30,206.30 349.70,206.30 350.10,206.30 350.50,206.30 350.90,206.30 351.30,206.30 351.70,206.30 352.10,206.30 352.50,206.30 352.90,206.30 353.30,206.30 353.70,206.30 354.10,206.30 354.50,206.30 354.90,206.30 355.30,206.30 355.70,206.30 356.10,206.30 356.50,206.30 356.90,206.30 357.30,206.30 357.70,206.30 358.10,206.30 358.50,206.30 358.90,206.30 359.30,206.30 359.70,206.30 360.10,206.30 360.50,206.30 360.90,206.30 361.30,206.30 361.70,206.30 362.10,206.30 362.50,206.30 362.90,206.30 363.30,206.30 363.70,206.30 364.10,206.30 364.50,206.30 364.90,206.30 365.30,206.30 365.70,206.30 366.10,206.30 366.50,206.30 366.90,206.30 367.30,206.30 367.70,206.30 368.10,206.30 368.50,206.30 368.90,206.30 369.30,206.30 369.70,206.30 370.10,206.30 370.50,206.30 370.90,206.30 371.30,206.30 371.70,206.30 372.10,206.30 372.50,206.30 372.90,206.30 373.30,206.30 373.70,206.30 374.10,206.30 374.50,206.30 374.90,206.30 375.30,206.30 375.70,206.30 376.10,206.30 376.50,206.30 376.90,206.30 377.30,206.30 377.70,206.30 378.10,206.30 378.50,206.30 378.90,206.30 379.30,206.30 379.70,206.30 380.10,206.30 380.50,206.30 380.90,206.30 381.30,206.30 381.70,206.30 382.10,206.30 382.50,206.30 382.90,206.30 383.30,206.30 383.70,206.30 384.10,206.30 384.50,206.30 384.90,206.30 385.30,206.30 385.70,206.30 386.10,206.30 386.50,206.30 386.90,206.30 387.30,206.30 387.70,206.30 388.10,206.30 388.50,206.30 388.90,206.30 389.30,206.30 389.70,206.30 390.10,206.30 390.50,206.30 390.90,206.30 391.30,206.30 391.70,206.30 392.10,206.30 392.50,206.30 392.90,206.30 393.30,206.30 393.70,206.30 394.10,206.30 394.50,206.30 394.90,206.30 395.30,206.30 395.70,206.30 396.10,206.30 396.50,206.30 396.90,206.30 397.30,206.30 397.70,206.30 398.10,206.30 398.50,206.30 398.90,206.30 399.30,206.30 399.70,206.30 400.10,206.30" fill="none" stroke="#000000" stroke-width="1.4" stroke-linejoin="round" />
<rect x="275.65" y="303.25" width="2.7" height="2.7" fill="#000"/>
<rect x="281.25" y="295.25" width="2.7" height="2.7" fill="#000"/>
<rect x="286.75" y="286.85" width="2.7" height="2.7" fill="#000"/>
<rect x="291.25" y="238.95" width="2.7" height="2.7" fill="#000"/>
<rect x="296.55" y="213.65" width="2.7" height="2.7" fill="#000"/>
<rect x="302.05" y="205.0" width="2.7" height="2.7" fill="#000"/>
<rect x="307.30" y="205.0" width="2.7" height="2.7" fill="#000"/>
<rect x="312.55" y="205.0" width="2.7" height="2.7" fill="#000"/>
<rect x="317.80" y="205.0" width="2.7" height="2.7" fill="#000"/>
<rect x="323.05" y="205.0" width="2.7" height="2.7" fill="#000"/>
<rect x="328.30" y="205.0" width="2.7" height="2.7" fill="#000"/>
<rect x="333.55" y="205.0" width="2.7" height="2.7" fill="#000"/>
<rect x="338.80" y="205.0" width="2.7" height="2.7" fill="#000"/>
<rect x="344.05" y="205.0" width="2.7" height="2.7" fill="#000"/>
<rect x="349.30" y="205.0" width="2.7" height="2.7" fill="#000"/>
<rect x="354.55" y="205.0" width="2.7" height="2.7" fill="#000"/>
<rect x="359.80" y="205.0" width="2.7" height="2.7" fill="#000"/>
<rect x="365.05" y="205.0" width="2.7" height="2.7" fill="#000"/>
<rect x="370.30" y="205.0" width="2.7" height="2.7" fill="#000"/>
<rect x="375.55" y="205.0" width="2.7" height="2.7" fill="#000"/>
<rect x="380.80" y="205.0" width="2.7" height="2.7" fill="#000"/>
<rect x="386.05" y="205.0" width="2.7" height="2.7" fill="#000"/>
<rect x="391.30" y="205.0" width="2.7" height="2.7" fill="#000"/>
<rect x="396.55" y="205.0" width="2.7" height="2.7" fill="#000"/>
<polyline points="270.60,313.20 271.00,313.80 271.40,314.36 271.80,314.78 272.20,314.99 272.60,315.00 273.00,314.98 273.40,314.95 273.80,314.91 274.20,314.87 274.60,314.83 275.00,314.80 275.40,314.77 275.80,314.75 276.20,314.72 276.60,314.70 277.00,314.67 277.40,314.65 277.80,314.62 278.20,314.60 278.60,314.58 279.00,314.56 279.40,314.53 279.80,314.51 280.20,314.49 280.60,314.47 281.00,314.45 281.40,314.43 281.80,314.41 282.20,314.40 282.60,314.38 283.00,314.36 283.40,314.34 283.80,314.32 284.20,314.30 284.60,314.28 285.00,314.26 285.40,314.24 285.80,314.21 286.20,314.19 286.60,314.16 287.00,314.13 287.40,314.10 287.80,314.07 288.20,314.03 288.60,314.00 289.00,313.96 289.40,313.92 289.80,313.88 290.20,313.83 290.60,313.78 291.00,313.73 291.40,313.67 291.80,313.61 292.20,313.55 292.60,313.48 293.00,313.40 293.40,313.30 293.80,313.18 294.20,313.02 294.60,312.83 295.00,312.63 295.40,312.40 295.80,312.15 296.20,311.89 296.60,311.62 297.00,311.34 297.40,311.05 297.80,310.77 298.20,310.48 298.60,310.20 299.00,309.92 299.40,309.62 299.80,309.32 300.20,309.01 300.60,308.68 301.00,308.34 301.40,308.00 301.80,307.64 302.20,307.26 302.60,306.88 303.00,306.48 303.40,306.07 303.80,305.64 304.20,305.20 304.60,304.74 305.00,304.25 305.40,303.74 305.80,303.21 306.20,302.66 306.60,302.08 307.00,301.48 307.40,300.87 307.80,300.23 308.20,299.58 308.60,298.91 309.00,298.22 309.40,297.52 309.80,296.80 310.20,296.06 310.60,295.28 311.00,294.48 311.40,293.64 311.80,292.77 312.20,291.87 312.60,290.94 313.00,289.99 313.40,289.00 313.80,288.00 314.20,286.96 314.60,285.88 315.00,284.69 315.40,283.44 315.80,282.17 316.20,280.91 316.60,279.71 317.00,278.54 317.40,277.38 317.80,276.24 318.20,275.11 318.60,273.98 319.00,272.85 319.40,271.71 319.80,270.57 320.20,269.42 320.60,268.27 321.00,267.11 321.40,265.95 321.80,264.78 322.20,263.61 322.60,262.45 323.00,261.28 323.40,260.12 323.80,258.96 324.20,257.80 324.60,256.65 325.00,255.50 325.40,254.34 325.80,253.16 326.20,251.96 326.60,250.75 327.00,249.53 327.40,248.32 327.80,247.13 328.20,245.95 328.60,244.80 329.00,243.68 329.40,242.60 329.80,241.58 330.20,240.61 330.60,239.70 331.00,238.85 331.40,238.04 331.80,237.26 332.20,236.52 332.60,235.80 333.00,235.10 333.40,234.42 333.80,233.75 334.20,233.09 334.60,232.43 335.00,231.76 335.40,231.09 335.80,230.40 336.20,229.69 336.60,228.97 337.00,228.23 337.40,227.48 337.80,226.74 338.20,225.99 338.60,225.25 339.00,224.53 339.40,223.82 339.80,223.14 340.20,222.49 340.60,221.88 341.00,221.30 341.40,220.77 341.80,220.28 342.20,219.83 342.60,219.39 343.00,218.98 343.40,218.58 343.80,218.19 344.20,217.82 344.60,217.47 345.00,217.13 345.40,216.79 345.80,216.47 346.20,216.16 346.60,215.86 347.00,215.56 347.40,215.27 347.80,214.99 348.20,214.70 348.60,214.43 349.00,214.15 349.40,213.88 349.80,213.62 350.20,213.37 350.60,213.12 351.00,212.88 351.40,212.65 351.80,212.44 352.20,212.23 352.60,212.04 353.00,211.86 353.40,211.70 353.80,211.55 354.20,211.39 354.60,211.25 355.00,211.10 355.40,210.96 355.80,210.83 356.20,210.69 356.60,210.56 357.00,210.44 357.40,210.32 357.80,210.20 358.20,210.09 358.60,209.98 359.00,209.87 359.40,209.77 359.80,209.67 360.20,209.58 360.60,209.49 361.00,209.41 361.40,209.33 361.80,209.25 362.20,209.18 362.60,209.12 363.00,209.05 363.40,209.00 363.80,208.94 364.20,208.89 364.60,208.84 365.00,208.79 365.40,208.75 365.80,208.70 366.20,208.66 366.60,208.62 367.00,208.58 367.40,208.54 367.80,208.51 368.20,208.47 368.60,208.43 369.00,208.39 369.40,208.35 369.80,208.31 370.20,208.27 370.60,208.23 371.00,208.19 371.40,208.14 371.80,208.10 372.20,208.05 372.60,208.01 373.00,207.96 373.40,207.92 373.80,207.87 374.20,207.82 374.60,207.77 375.00,207.73 375.40,207.68 375.80,207.64 376.20,207.59 376.60,207.55 377.00,207.50 377.40,207.46 377.80,207.42 378.20,207.38 378.60,207.34 379.00,207.30 379.40,207.27 379.80,207.23 380.20,207.20 380.60,207.17 381.00,207.14 381.40,207.11 381.80,207.08 382.20,207.05 382.60,207.02 383.00,206.99 383.40,206.96 383.80,206.94 384.20,206.91 384.60,206.88 385.00,206.86 385.40,206.83 385.80,206.81 386.20,206.79 386.60,206.76 387.00,206.74 387.40,206.72 387.80,206.70 388.20,206.68 388.60,206.66 389.00,206.64 389.40,206.62 389.80,206.61 390.20,206.59 390.60,206.58 391.00,206.56 391.40,206.55 391.80,206.53 392.20,206.52 392.60,206.50 393.00,206.49 393.40,206.47 393.80,206.46 394.20,206.45 394.60,206.43 395.00,206.42 395.40,206.41 395.80,206.40 396.20,206.39 396.60,206.37 397.00,206.36 397.40,206.35 397.80,206.35 398.20,206.34 398.60,206.33 399.00,206.32 399.40,206.31 399.80,206.31 400.20,206.30" fill="none" stroke="#ff0000" stroke-width="1.4" stroke-linejoin="round" />
<circle cx="270.60" cy="313.50" r="1.45" fill="#ff0000"/>
<circle cx="276.00" cy="313.70" r="1.45" fill="#ff0000"/>
<circle cx="281.30" cy="313.70" r="1.45" fill="#ff0000"/>
<circle cx="286.60" cy="313.70" r="1.45" fill="#ff0000"/>
<circle cx="291.90" cy="313.50" r="1.45" fill="#ff0000"/>
<circle cx="297.20" cy="313.50" r="1.45" fill="#ff0000"/>
<circle cx="303.70" cy="306.00" r="1.45" fill="#ff0000"/>
<circle cx="309.20" cy="302.00" r="1.45" fill="#ff0000"/>
<circle cx="314.80" cy="282.10" r="1.45" fill="#ff0000"/>
<circle cx="319.30" cy="259.40" r="1.45" fill="#ff0000"/>
<circle cx="325.20" cy="258.80" r="1.45" fill="#ff0000"/>
<circle cx="330.50" cy="243.70" r="1.45" fill="#ff0000"/>
<circle cx="335.60" cy="233.40" r="1.45" fill="#ff0000"/>
<circle cx="341.10" cy="217.50" r="1.45" fill="#ff0000"/>
<circle cx="346.40" cy="217.90" r="1.45" fill="#ff0000"/>
<circle cx="351.60" cy="214.00" r="1.45" fill="#ff0000"/>
<circle cx="357.30" cy="214.40" r="1.45" fill="#ff0000"/>
<circle cx="362.10" cy="210.20" r="1.45" fill="#ff0000"/>
<circle cx="367.60" cy="210.20" r="1.45" fill="#ff0000"/>
<circle cx="373.20" cy="209.90" r="1.45" fill="#ff0000"/>
<circle cx="378.50" cy="209.90" r="1.45" fill="#ff0000"/>
<circle cx="383.60" cy="205.40" r="1.45" fill="#ff0000"/>
<circle cx="389.20" cy="205.50" r="1.45" fill="#ff0000"/>
<circle cx="394.50" cy="205.50" r="1.45" fill="#ff0000"/>
<circle cx="399.80" cy="205.50" r="1.45" fill="#ff0000"/>
<text x="364.30" y="274.10" font-size="16" text-anchor="start" fill="#111" font-weight="normal" stroke="#111" stroke-width="0.25" >- Lactate</text>
<text x="364.60" y="296.00" font-size="16" text-anchor="start" fill="#ff0000" font-weight="normal" stroke="#ff0000" stroke-width="0.25" >+ Lactate</text>
<line x1="494.80" y1="197.20" x2="494.80" y2="325.80" stroke="#222" stroke-width="1.6" />
<line x1="494.00" y1="325.00" x2="653.50" y2="325.00" stroke="#222" stroke-width="1.6" />
<line x1="492.00" y1="325.10" x2="494.80" y2="325.10" stroke="#222" stroke-width="1.2" />
<line x1="493.20" y1="309.12" x2="494.80" y2="309.12" stroke="#222" stroke-width="1.2" />
<line x1="492.00" y1="293.13" x2="494.80" y2="293.13" stroke="#222" stroke-width="1.2" />
<line x1="493.20" y1="277.15" x2="494.80" y2="277.15" stroke="#222" stroke-width="1.2" />
<line x1="492.00" y1="261.16" x2="494.80" y2="261.16" stroke="#222" stroke-width="1.2" />
<line x1="493.20" y1="245.18" x2="494.80" y2="245.18" stroke="#222" stroke-width="1.2" />
<line x1="492.00" y1="229.19" x2="494.80" y2="229.19" stroke="#222" stroke-width="1.2" />
<line x1="493.20" y1="213.21" x2="494.80" y2="213.21" stroke="#222" stroke-width="1.2" />
<line x1="492.00" y1="197.22" x2="494.80" y2="197.22" stroke="#222" stroke-width="1.2" />
<text x="490.40" y="329.20" font-size="11.6" text-anchor="end" fill="#1a1a1a" font-weight="normal" stroke="#1a1a1a" stroke-width="0.25" >0</text>
<text x="490.40" y="297.23" font-size="11.6" text-anchor="end" fill="#1a1a1a" font-weight="normal" stroke="#1a1a1a" stroke-width="0.25" textLength="17.4" lengthAdjust="spacingAndGlyphs">100</text>
<text x="490.40" y="265.26" font-size="11.6" text-anchor="end" fill="#1a1a1a" font-weight="normal" stroke="#1a1a1a" stroke-width="0.25" textLength="17.4" lengthAdjust="spacingAndGlyphs">200</text>
<text x="490.40" y="233.29" font-size="11.6" text-anchor="end" fill="#1a1a1a" font-weight="normal" stroke="#1a1a1a" stroke-width="0.25" textLength="17.4" lengthAdjust="spacingAndGlyphs">300</text>
<text x="490.40" y="201.32" font-size="11.6" text-anchor="end" fill="#1a1a1a" font-weight="normal" stroke="#1a1a1a" stroke-width="0.25" textLength="17.4" lengthAdjust="spacingAndGlyphs">400</text>
<line x1="534.50" y1="325.00" x2="534.50" y2="327.50" stroke="#222" stroke-width="1.2" />
<line x1="613.60" y1="325.00" x2="613.60" y2="327.50" stroke="#222" stroke-width="1.2" />
<line x1="574.20" y1="325.00" x2="574.20" y2="322.50" stroke="#222" stroke-width="1.2" />
<line x1="653.50" y1="325.00" x2="653.50" y2="322.50" stroke="#222" stroke-width="1.2" />
<text x="534.00" y="338.60" font-size="13.2" text-anchor="middle" fill="#1a1a1a" font-weight="normal" stroke="#1a1a1a" stroke-width="0.25" textLength="48" lengthAdjust="spacingAndGlyphs">- Lactate</text>
<text x="613.50" y="338.60" font-size="13.2" text-anchor="middle" fill="#1a1a1a" font-weight="normal" stroke="#1a1a1a" stroke-width="0.25" textLength="51" lengthAdjust="spacingAndGlyphs">+ Lactate</text>
<text font-size="12" fill="#1a1a1a" transform="translate(465.5,254.0) rotate(-90)" text-anchor="middle">APD<tspan font-size="7.5" dy="2.6">80</tspan><tspan dy="-2.6" dx="2.8">(ms)</tspan></text>
<line x1="534.50" y1="256.70" x2="534.50" y2="274.00" stroke="#ff0000" stroke-width="1.0" />
<line x1="532.90" y1="256.70" x2="536.10" y2="256.70" stroke="#ff0000" stroke-width="1.0" />
<line x1="532.90" y1="274.00" x2="536.10" y2="274.00" stroke="#ff0000" stroke-width="1.0" />
<line x1="534.50" y1="277.50" x2="534.50" y2="291.30" stroke="#000000" stroke-width="1.0" />
<line x1="532.90" y1="277.50" x2="536.10" y2="277.50" stroke="#000000" stroke-width="1.0" />
<line x1="532.90" y1="291.30" x2="536.10" y2="291.30" stroke="#000000" stroke-width="1.0" />
<line x1="534.50" y1="291.30" x2="534.50" y2="308.90" stroke="#0000ff" stroke-width="1.0" />
<line x1="532.90" y1="291.30" x2="536.10" y2="291.30" stroke="#0000ff" stroke-width="1.0" />
<line x1="532.90" y1="308.90" x2="536.10" y2="308.90" stroke="#0000ff" stroke-width="1.0" />
<line x1="613.60" y1="203.00" x2="613.60" y2="225.90" stroke="#000000" stroke-width="1.0" />
<line x1="612.00" y1="203.00" x2="615.20" y2="203.00" stroke="#000000" stroke-width="1.0" />
<line x1="612.00" y1="225.90" x2="615.20" y2="225.90" stroke="#000000" stroke-width="1.0" />
<line x1="613.60" y1="248.80" x2="613.60" y2="271.30" stroke="#ff00ff" stroke-width="1.0" />
<line x1="612.00" y1="248.80" x2="615.20" y2="248.80" stroke="#ff00ff" stroke-width="1.0" />
<line x1="612.00" y1="271.30" x2="615.20" y2="271.30" stroke="#ff00ff" stroke-width="1.0" />
<line x1="613.60" y1="226.00" x2="613.60" y2="248.00" stroke="#ff0000" stroke-width="1.0" />
<line x1="534.50" y1="284.60" x2="613.60" y2="225.90" stroke="#000000" stroke-width="1" />
<line x1="534.50" y1="265.40" x2="613.60" y2="237.50" stroke="#ff0000" stroke-width="1" />
<line x1="534.50" y1="299.60" x2="613.60" y2="260.40" stroke="#0000ff" stroke-width="1" />
<rect x="532.05" y="282.15" width="4.90" height="4.90" fill="#000000"/>
<rect x="611.15" y="223.45" width="4.90" height="4.90" fill="#000000"/>
<circle cx="534.50" cy="265.40" r="2.70" fill="#ff0000"/>
<circle cx="613.60" cy="237.50" r="2.70" fill="#ff0000"/>
<polygon points="531.20,301.85 537.80,301.85 534.50,296.85" fill="#0000ff"/>
<polygon points="610.30,262.65 616.90,262.65 613.60,257.65" fill="#0000ff"/>
<polygon points="610.30,253.86 616.90,253.86 613.60,259.06" fill="#ff00ff"/>
<path d="M615.20,191.70L615.20,182.50M611.22,189.40L619.18,184.80M619.18,189.40L611.22,184.80" stroke="#000" stroke-width="2.1" stroke-linecap="round" fill="none"/>
<line x1="636.40" y1="186.90" x2="655.30" y2="186.90" stroke="#000000" stroke-width="1" />
<rect x="643.45" y="184.65" width="4.51" height="4.51" fill="#000000"/>
<text x="657.20" y="189.80" font-size="8.6" text-anchor="start" fill="#1a1a1a" font-weight="normal" stroke="#1a1a1a" stroke-width="0.25" textLength="26" lengthAdjust="spacingAndGlyphs">batch 1</text>
<line x1="636.40" y1="197.10" x2="655.30" y2="197.10" stroke="#ff0000" stroke-width="1" />
<circle cx="645.70" cy="197.10" r="2.48" fill="#ff0000"/>
<text x="657.20" y="200.00" font-size="8.6" text-anchor="start" fill="#1a1a1a" font-weight="normal" stroke="#1a1a1a" stroke-width="0.25" textLength="26" lengthAdjust="spacingAndGlyphs">batch 2</text>
<line x1="636.40" y1="207.30" x2="655.30" y2="207.30" stroke="#0000ff" stroke-width="1" />
<polygon points="642.66,209.37 648.74,209.37 645.70,204.77" fill="#0000ff"/>
<text x="657.20" y="210.20" font-size="8.6" text-anchor="start" fill="#1a1a1a" font-weight="normal" stroke="#1a1a1a" stroke-width="0.25" textLength="26" lengthAdjust="spacingAndGlyphs">batch 3</text>
<line x1="636.40" y1="217.50" x2="655.30" y2="217.50" stroke="#ff00ff" stroke-width="1" />
<polygon points="642.66,215.35 648.74,215.35 645.70,220.13" fill="#ff00ff"/>
<text x="657.20" y="220.40" font-size="8.6" text-anchor="start" fill="#1a1a1a" font-weight="normal" stroke="#1a1a1a" stroke-width="0.25" textLength="26" lengthAdjust="spacingAndGlyphs">batch 4</text>
</svg>
</body></html>
